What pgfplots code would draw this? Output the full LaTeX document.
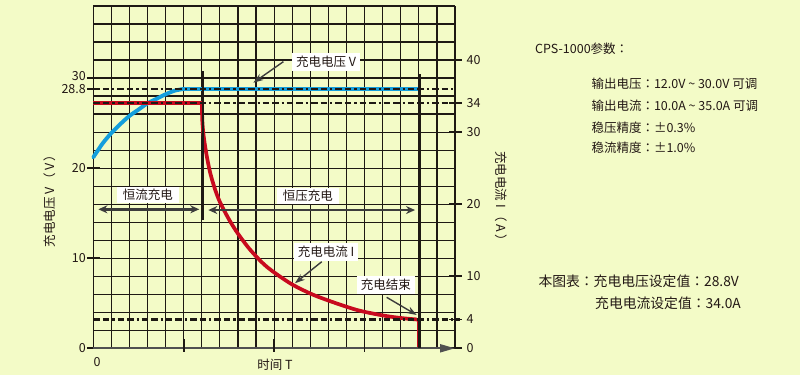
\documentclass[border=0pt]{standalone}
\usepackage{fontspec}
\setmainfont{Noto Sans CJK JP}
\usepackage{pgfplots}
\pgfplotsset{compat=1.18}
\usetikzlibrary{arrows.meta}
\definecolor{bg}{RGB}{243,251,199}
\definecolor{gridc}{RGB}{30,25,20}
\definecolor{txt}{RGB}{35,24,21}
\definecolor{vblue}{RGB}{20,158,220}
\definecolor{ired}{RGB}{200,10,30}
\definecolor{darkg}{RGB}{60,60,60}
\newcommand\lab{\fontsize{12.5bp}{15bp}\selectfont}
\newcommand\labb{\fontsize{13.8bp}{16bp}\selectfont}
\tikzset{dd/.style={line width=2.1bp, color=gridc, dash pattern=on 6.5bp off 3bp on 6.5bp off 3bp on 2.2bp off 3bp}}
\begin{document}
\begin{tikzpicture}
\path[use as bounding box, fill=bg] (-93.3bp,-26.7bp) rectangle (706.7bp,348.3bp);
% ---------- voltage axis ----------
\begin{axis}[
  scale only axis, width=361.7bp, height=342.3bp,
  xmin=0, xmax=20, ymin=0, ymax=38,
  axis line style={draw=none},
  xtick={0,1,...,20},
  xticklabels={},
  xtick style={draw=none},
  ytick={0,10,20,28.8,30},
  yticklabels={0,10,20,28.8,\raisebox{5bp}{30}},
  ytick pos=left,
  tick align=center,
  major tick length=12.6bp,
  ytick style={line width=1.6bp, color=gridc},
  minor ytick={0,2,...,38},
  minor tick length=0pt,
  xmajorgrids, ymajorgrids=false, yminorgrids,
  major grid style={gridc, line width=1.2bp},
  minor grid style={gridc, line width=1.2bp},
  yticklabel style={font=\lab, text=txt, anchor=east, inner sep=1bp},
  clip=false,
]
\addplot[vblue, line width=3.9bp, smooth, line cap=round] coordinates {
 (0,21.2) (0.5,22.7) (1.0,23.9) (1.5,24.9) (2.0,25.8) (2.5,26.5) (3.0,27.2)
 (3.5,27.7) (4.0,28.2) (4.5,28.6) (5.0,28.8)};
\addplot[vblue, line width=3.9bp] coordinates {(5,28.8) (18,28.8)};
\draw[dd] (axis cs:0,28.8) -- (axis cs:20,28.8);
\end{axis}
% ---------- current axis ----------
\begin{axis}[
  scale only axis, width=361.7bp, height=342.3bp,
  xmin=0, xmax=20, ymin=0, ymax=47.5,
  hide x axis,
  axis y line*=right,
  y axis line style={draw=none},
  ytick={0,4,10,20,30,34,40},
  yticklabels={0,4,10,20,30,34,40},
  tick align=center,
  major tick length=13bp,
  major tick style={line width=1.6bp, color=gridc},
  yticklabel style={font=\lab, text=txt, anchor=west, inner sep=1bp, xshift=4bp},
  clip=false,
]
\addplot[ired, line width=3.7bp] coordinates {(0,34) (6,34)};
\addplot[ired, line width=3.7bp, smooth] coordinates {
 (6.0,34) (6.03,31.5) (6.1,29.5) (6.25,27) (6.45,24.5) (6.7,22.3) (7.0,20.3)
 (7.5,17.9) (8.0,15.9) (8.7,13.6) (9.6,11.3) (10.9,9.0) (12.0,7.6) (12.7,6.9)
 (13.6,6.1) (14.6,5.3) (15.5,4.8) (16.4,4.4) (17.2,4.15) (17.9,4.0)};
\addplot[ired, line width=1.2bp] coordinates {(17.94,4) (17.94,0)};
\draw[dd] (axis cs:0,34) -- (axis cs:20,34);
\draw[dd] (axis cs:0,4) -- (axis cs:20.3,4);
\end{axis}
% ---------- decorations (column / volt units) ----------
\begin{scope}[x=18.085bp, y=9.008bp]
\draw[line width=2bp, color=darkg!90, -{Triangle[length=15bp,width=8bp]}] (0,0) -- (20,0);
\draw[line width=2.3bp, gridc] (20,0) -- (20,35.33);
\draw[line width=2.7bp, gridc] (6.06,30.78) -- (6.06,14.24);
\draw[line width=2.7bp, gridc] (18.03,30.45) -- (18.03,0);
\foreach \t in {5,10,15} \draw[line width=1.6bp, gridc] (\t,1.0) -- (\t,-0.45);
\draw[line width=2.6bp, darkg, {Stealth[length=9bp,width=8bp]}-{Stealth[length=9bp,width=8bp]}] (0.28,15.43) -- (5.86,15.43);
\draw[line width=2.6bp, darkg, {Stealth[length=9bp,width=8bp]}-{Stealth[length=9bp,width=8bp]}] (6.36,15.35) -- (17.79,15.35);
\node[fill=white, text=txt, font=\lab, inner xsep=6bp, inner ysep=2bp] at (3.02,17.02) {恒流充电};
\node[fill=white, text=txt, font=\lab, inner xsep=6bp, inner ysep=2bp] at (11.87,16.9) {恒压充电};
\node[fill=white, text=txt, font=\lab, inner xsep=4bp, inner ysep=3bp] at (12.87,31.78) {充电电压 V};
\node[fill=white, text=txt, font=\lab, inner xsep=4bp, inner ysep=3bp] at (12.87,10.69) {充电电流 I};
\node[fill=white, text=txt, font=\lab, inner xsep=4bp, inner ysep=3bp] at (16.18,7.03) {充电结束};
\draw[line width=1.4bp, darkg, -{Stealth[length=10bp,width=7bp]}] (10.51,31.82) -- (8.85,29.48);
\draw[line width=1.4bp, darkg, -{Stealth[length=10bp,width=7bp]}] (12.63,9.61) -- (11.15,7.22);
\draw[line width=1.4bp, darkg, -{Stealth[length=10bp,width=7bp]}] (16.22,5.66) -- (17.88,3.70);
\end{scope}
% ---------- texts (bp units, origin at axis lower left) ----------
\begin{scope}[x=1bp, y=1bp]
\node[rotate=90, text=txt, font=\lab] at (-43.3,150.3) {充电电压 V\hspace{2bp}（\hspace{2bp}V\hspace{2bp}）};
\node[rotate=-90, text=txt, font=\lab] at (408.4,149.3) {充电电流 I\hspace{2bp}（\hspace{2bp}A\hspace{2bp}）};
\node[text=txt, font=\lab] at (181.7,-16.7) {时间 T};
\node[text=txt, font=\lab] at (3.7,-13.7) {0};
\node[anchor=west, text=txt, font=\lab] at (438.4,300) {CPS-1000参数：};
\node[anchor=west, text=txt, font=\lab] at (494.7,265) {输出电压：12.0V \textasciitilde{} 30.0V 可调};
\node[anchor=west, text=txt, font=\lab] at (494.7,242.3) {输出电流：10.0A \textasciitilde{} 35.0A 可调};
\node[anchor=west, text=txt, font=\lab] at (494.7,221) {稳压精度：±0.3\%};
\node[anchor=west, text=txt, font=\lab] at (494.7,201) {稳流精度：±1.0\%};
\node[anchor=west, text=txt, font=\labb] at (441.7,66.6) {本图表：充电电压设定值：28.8V};
\node[anchor=west, text=txt, font=\labb] at (498.4,45) {充电电流设定值：34.0A};
\end{scope}
\end{tikzpicture}
\end{document}
